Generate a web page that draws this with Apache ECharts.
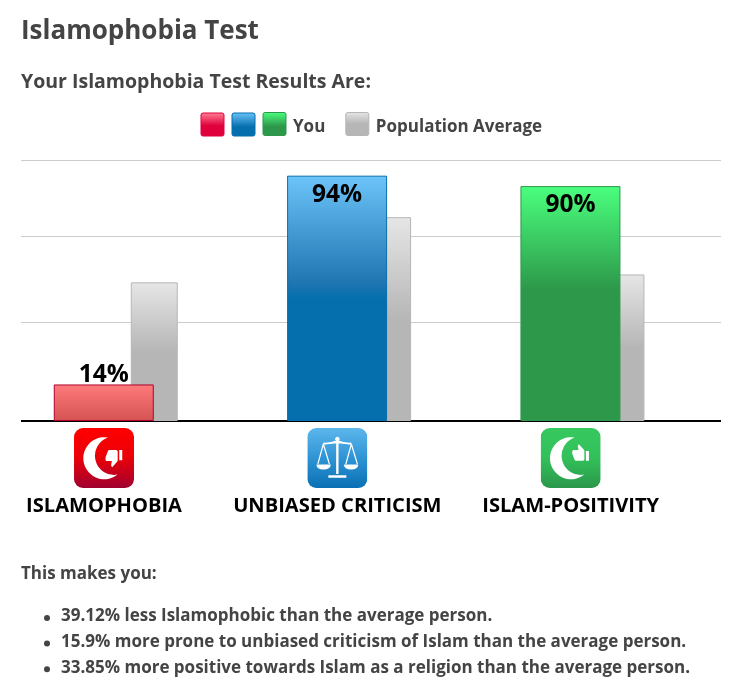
<!DOCTYPE html>
<html><head><meta charset="utf-8">
<style>html,body{margin:0;padding:0;background:#fff}#c{width:734px;height:688px}</style>
<script src="https://cdn.jsdelivr.net/npm/echarts@6/dist/echarts.min.js"></script>
</head><body><div id="c"></div>
<script>
const categories = ['ISLAMOPHOBIA', 'UNBIASED CRITICISM', 'ISLAM-POSITIVITY'];
const youValues = [14, 94, 90];
const averageValues = [53.12, 78.1, 56.15];
const gridValues = [38, 70.8, 100];
const resultLines = [
  '39.12% less Islamophobic than the average person.',
  '15.9% more prone to unbiased criticism of Islam than the average person.',
  '33.85% more positive towards Islam as a religion than the average person.'
];
const FONT = '"Open Sans"';
const TEXT = '#444444';

function grad(stops) {
  return { type: 'linear', x: 0, y: 0, x2: 0, y2: 1,
    colorStops: stops.map(s => ({ offset: s[0], color: s[1] })) };
}
const barStyles = [
  { color: grad([[0, '#ff7b7b'], [1, '#d65353']]), borderColor: '#b0002f', borderWidth: 1 },
  { color: grad([[0, '#6cc4fa'], [0.44, '#1f75b0'], [0.5, '#056fae'], [1, '#056fae']]), borderColor: '#056fae', borderWidth: 1 },
  { color: grad([[0, '#4aff7e'], [0.44, '#2d984a'], [1, '#2d984a']]), borderColor: '#2d984a', borderWidth: 1 }
];
const greyStyle = { color: grad([[0, '#e6e6e6'], [0.5, '#b6b6b6'], [1, '#b6b6b6']]), borderColor: '#b6b6b6', borderWidth: 1 };
const legendRed = grad([[0, '#ff8095'], [0.55, '#e0003c'], [1, '#e0003c']]);
const legendBlue = grad([[0, '#6cc4fa'], [0.6, '#056fae'], [1, '#056fae']]);
const legendGreen = grad([[0, '#4aff7e'], [0.6, '#2d984a'], [1, '#2d984a']]);
const SWATCH = 'path://M2 0H22Q24 0 24 2V22Q24 24 22 24H2Q0 24 0 22V2Q0 0 2 0Z';

const crescent = '<path fill="#fff" d="M34 9.6A21 21 0 1 0 43.5 46.6A19.15 19.15 0 0 1 34 9.6Z"/>';
const thumb = 'M1 21h4V9H1v12zm22-11c0-1.1-.9-2-2-2h-6.31l.95-4.57.03-.32c0-.41-.17-.79-.44-1.06L14.17 1 7.59 7.59C7.22 7.95 7 8.45 7 9v10c0 1.1.9 2 2 2h9c.83 0 1.54-.5 1.84-1.22l3.02-7.05c.09-.23.14-.47.14-.73v-2z';
function svgIcon(c1, c2, c3, inner) {
  const s = '<svg xmlns="http://www.w3.org/2000/svg" width="60" height="60" viewBox="0 0 60 60">' +
    '<defs><linearGradient id="g" x1="0" y1="0" x2="0" y2="1"><stop offset="0" stop-color="' + c1 + '"/>' +
    '<stop offset="0.5" stop-color="' + c2 + '"/><stop offset="1" stop-color="' + c3 + '"/></linearGradient></defs>' +
    '<rect width="60" height="60" rx="9" fill="url(#g)"/>' + inner + '</svg>';
  return 'data:image/svg+xml;charset=utf-8,' + encodeURIComponent(s);
}
const scales = '<g fill="#fff" stroke="#fff"><path stroke-width="2.4" d="M30 11V46"/><path stroke-width="1.8" d="M16 15.5Q23 16 30 13Q37 16 44 15.5"/>' +
  '<path stroke-width="2.4" d="M21 48.5H39"/><path fill="none" stroke-width="1.2" d="M16 16L10.5 36M16 16L22 36M44 16L38.5 36M44 16L50 36"/>' +
  '<path stroke="none" d="M9 36.5H23.5Q23 41.5 16 41.5Q9.5 41.5 9 36.5ZM36.5 36.5H51Q50.5 41.5 43.8 41.5Q37 41.5 36.5 36.5Z"/><circle cx="30" cy="11" r="1.8"/></g>';
const iconImages = [
  svgIcon('#ff0000', '#ea0008', '#a00030', crescent + '<path fill="#fff" transform="translate(49,40) scale(-.76,-.86)" d="' + thumb + '"/>'),
  svgIcon('#5cb6ec', '#2f94d4', '#0a70b4', scales),
  svgIcon('#36c95f', '#33c05a', '#2a984a', crescent + '<path fill="#fff" transform="translate(49,15.5) scale(-.76,.82)" d="' + thumb + '"/>')
];

const graphicEls = [
  { type: 'rect', left: 200.5, top: 112.5, shape: { width: 23, height: 23, r: 2 }, style: { fill: legendRed, stroke: '#e0003c', lineWidth: 1 } },
  { type: 'rect', left: 231.5, top: 112.5, shape: { width: 23, height: 23, r: 2 }, style: { fill: legendBlue, stroke: '#056fae', lineWidth: 1 } },
  { type: 'text', left: 21, top: 566, style: { text: 'This makes you:', fill: TEXT, font: 'bold 17px ' + FONT } }
];
resultLines.forEach((t, i) => {
  const y = 608 + i * 25.6;
  graphicEls.push({ type: 'circle', left: 44, top: y + 7, shape: { r: 3 }, style: { fill: TEXT } });
  graphicEls.push({ type: 'text', left: 61, top: y, style: { text: t, fill: TEXT, font: 'bold 17px ' + FONT } });
});

const richIcons = {};
iconImages.forEach((img, i) => {
  richIcons['i' + i] = { backgroundColor: { image: img }, width: 60, height: 60, lineHeight: 60 };
});

const chart = echarts.init(document.getElementById('c'));
chart.setOption({
  animation: false,
  backgroundColor: '#fff',
  title: [
    { text: 'Islamophobia Test', left: 21, top: 19, padding: 0, textStyle: { fontFamily: FONT, fontWeight: 'bold', fontSize: 26, color: TEXT } },
    { text: 'Your Islamophobia Test Results Are:', left: 21, top: 72, padding: 0, textStyle: { fontFamily: FONT, fontWeight: 'bold', fontSize: 19.5, color: TEXT } }
  ],
  legend: {
    left: 262.5, top: 109, padding: 0, itemWidth: 23, itemHeight: 23, itemGap: 20, selectedMode: false,
    icon: SWATCH,
    formatter: n => '{a|' + n + '}',
    textStyle: {
      rich: { a: { fontFamily: FONT, fontWeight: 'bold', fontSize: 17, color: TEXT, height: 24, lineHeight: 24, padding: [6, 0, 0, 2] } }
    },
    data: [
      { name: 'You', icon: SWATCH, itemStyle: { color: legendGreen, borderColor: '#2d984a', borderWidth: 1 } },
      { name: 'Population Average', icon: SWATCH, itemStyle: greyStyle }
    ]
  },
  grid: { left: 21, right: 13, top: 160, height: 261, containLabel: false },
  xAxis: {
    type: 'category', data: categories,
    axisTick: { show: false },
    axisLine: { lineStyle: { color: '#000', width: 2, cap: 'butt' } },
    axisLabel: {
      interval: 0, margin: 7, padding: [0, 67.3, 0, 0],
      formatter: (v, i) => '{i' + i + '|}\n{name|' + v + '}',
      rich: Object.assign({ name: { fontFamily: FONT, fontWeight: 'bold', fontSize: 20.1, color: '#000', lineHeight: 34, padding: [2, 0, 0, 0] } }, richIcons)
    }
  },
  yAxis: { type: 'value', min: 0, max: 100, show: false, splitLine: { show: false } },
  series: [
    {
      name: 'You', type: 'bar', barWidth: 100, barGap: '-23%', z: 4,
      label: { show: true, formatter: '{c}%', color: '#000', fontFamily: FONT, fontWeight: 'bold', fontSize: 24.5 },
      data: youValues.map((v, i) => ({
        value: v, itemStyle: barStyles[i],
        label: { position: v < 50 ? 'top' : 'insideTop', distance: v < 50 ? -3 : 6.5 }
      }))
    },
    {
      name: 'Population Average', type: 'bar', barWidth: 47, z: 3,
      itemStyle: greyStyle,
      data: averageValues,
      markLine: {
        silent: true, symbol: 'none', z: 1, label: { show: false },
        lineStyle: { color: '#cccccc', width: 1, type: 'solid' },
        data: gridValues.map(v => ({ yAxis: v }))
      }
    },
    { name: 'offset', type: 'bar', barWidth: 54.6, data: [] }
  ],
  graphic: graphicEls
});
</script></body></html>
